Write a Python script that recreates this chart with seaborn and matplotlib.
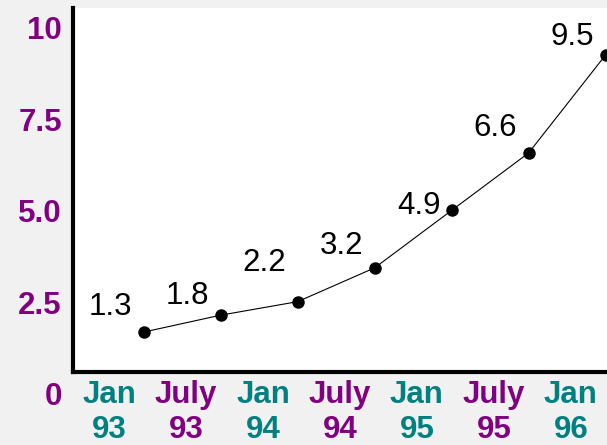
import matplotlib
matplotlib.use("Agg")
import matplotlib.pyplot as plt
import seaborn as sns
import pandas as pd

# ---- data ----
values = [1.3, 1.8, 2.2, 3.2, 4.9, 6.6, 9.5]
point_months = [2.7, 8.7, 14.7, 20.7, 26.7, 32.7, 38.7]   # months since Jan 93
tick_months = [0, 6, 12, 18, 24, 30, 36]
tick_labels = ["Jan\n93", "July\n93", "Jan\n94", "July\n94", "Jan\n95", "July\n95", "Jan\n96"]
y_ticks = [2.5, 5.0, 7.5, 10]
y_tick_labels = ["2.5", "5.0", "7.5", "10"]
label_dy = [17, 11, 31, 14, -4, 17, 10]   # label offsets (pixels), style only

TEAL = "#008080"
PURPLE = "#800080"
BG = "#f1f1f1"
FS = 22.5

sns.set_theme(style="white")
plt.rcParams['font.family'] = ['Liberation Sans', 'DejaVu Sans']

df = pd.DataFrame({"month": point_months, "value": values})

fig = plt.figure(figsize=(6.07, 4.45), dpi=100, facecolor=BG)
ax = fig.add_axes([73/607, 73/445, 1 - 73/607, (372 - 8)/445])
ax.set_facecolor("white")

sns.lineplot(data=df, x="month", y="value", ax=ax, color="black", linewidth=0.8,
             marker="o", markersize=9, markeredgewidth=0, markerfacecolor="black")

ax.set_xlim(-2.81, 38.81)
ax.set_ylim(0.118, 10.89)
ax.set_xlabel("")
ax.set_ylabel("")
ax.set_yticks([])
ax.set_xticks(tick_months)
ax.set_xticklabels(tick_labels, fontsize=FS, fontweight="bold", linespacing=1.2)
for i, t in enumerate(ax.get_xticklabels()):
    t.set_color(TEAL if i % 2 == 0 else PURPLE)
ax.tick_params(axis="x", length=0, pad=6)

for s in ["top", "right"]:
    ax.spines[s].set_visible(False)
for s in ["left", "bottom"]:
    ax.spines[s].set_color("black")
    ax.spines[s].set_linewidth(3)

for m, v, dy in zip(point_months, values, label_dy):
    ax.annotate(f"{v:.1f}", xy=(m, v), xytext=(-33, dy), textcoords="offset pixels",
                ha="center", va="baseline", fontsize=FS, color="black")

# y tick labels on their own scale
ax2 = ax.twinx()
ax2.set_ylim(0.601, 10.546)
ax2.yaxis.tick_left()
ax2.set_yticks(y_ticks)
ax2.set_yticklabels(y_tick_labels, fontsize=FS, fontweight="bold", color=PURPLE)
ax2.tick_params(axis="y", length=0, pad=8)
for s in ax2.spines.values():
    s.set_visible(False)
ax2.annotate("0", xy=(0, 0), xycoords=("axes fraction", "data"), xytext=(-11, 0),
             textcoords="offset pixels", ha="right", va="center_baseline",
             fontsize=FS, fontweight="bold", color=PURPLE, annotation_clip=False)

fig.savefig("out.png", dpi=100, facecolor=BG)
